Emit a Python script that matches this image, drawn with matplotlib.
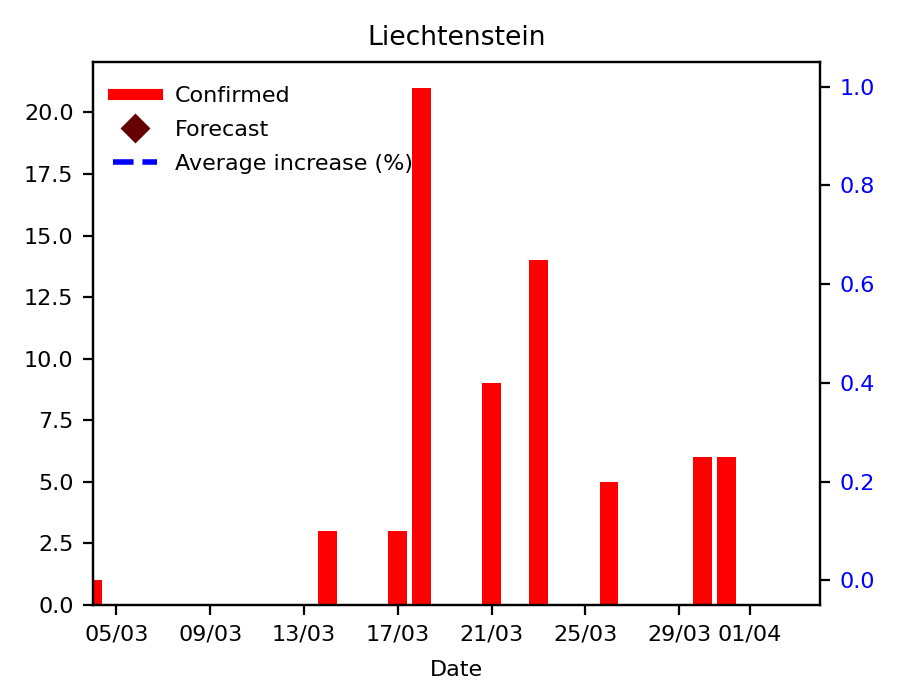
import matplotlib
matplotlib.use("Agg")
import matplotlib.pyplot as plt
import matplotlib.dates as mdates
import numpy as np
import pandas as pd

plt.rcParams["font.size"] = 8

title = "Liechtenstein"
dates = ["2020-03-04", "2020-03-14", "2020-03-17", "2020-03-18", "2020-03-21",
         "2020-03-23", "2020-03-26", "2020-03-30", "2020-03-31"]
confirmed = [1, 3, 3, 21, 9, 14, 5, 6, 6]
forecast_dates = []
forecast_values = []
avg_increase_dates = []
avg_increase_values = []
x_range = ["2020-03-04", "2020-04-04"]

d = pd.to_datetime(dates)

fig = plt.figure(figsize=(4.5, 3.5), dpi=200)
ax = fig.add_axes([93 / 900, 1 - 605 / 700, (820 - 93) / 900, (605 - 62) / 700])
ax.bar(d, confirmed, width=0.8, color="red", zorder=2)
ax.set_xlim(pd.to_datetime(x_range[0]), pd.to_datetime(x_range[1]))
ax.set_ylim(0, max(confirmed) * 1.05)
ax.xaxis.set_major_locator(mdates.DayLocator(bymonthday=range(1, 32, 4)))
ax.xaxis.set_major_formatter(mdates.DateFormatter("%d/%m"))
ax.set_xlabel("Date", labelpad=5.5)
ax.set_title(title)

ax2 = ax.twinx()
ax2.plot(pd.to_datetime(avg_increase_dates), avg_increase_values, "--", color="blue", lw=2)
ax2.set_ylim(-0.05, 1.05)
ax2.tick_params(axis="y", labelcolor="blue")

h1, = ax.plot([], [], color="red", lw=4, label="Confirmed")
h2, = ax.plot(pd.to_datetime(forecast_dates), forecast_values, "D", color="#660000",
              ms=6.5, ls="none", label="Forecast")
h3, = ax.plot([], [], "--", color="blue", lw=2, label="Average increase (%)")
ax2.legend([h1, h2, h3], ["Confirmed", "Forecast", "Average increase (%)"],
           loc="upper left", bbox_to_anchor=(0, 1 - 3.5 / 543), frameon=False,
           labelspacing=0.63)

fig.savefig("out.png", dpi=200)
